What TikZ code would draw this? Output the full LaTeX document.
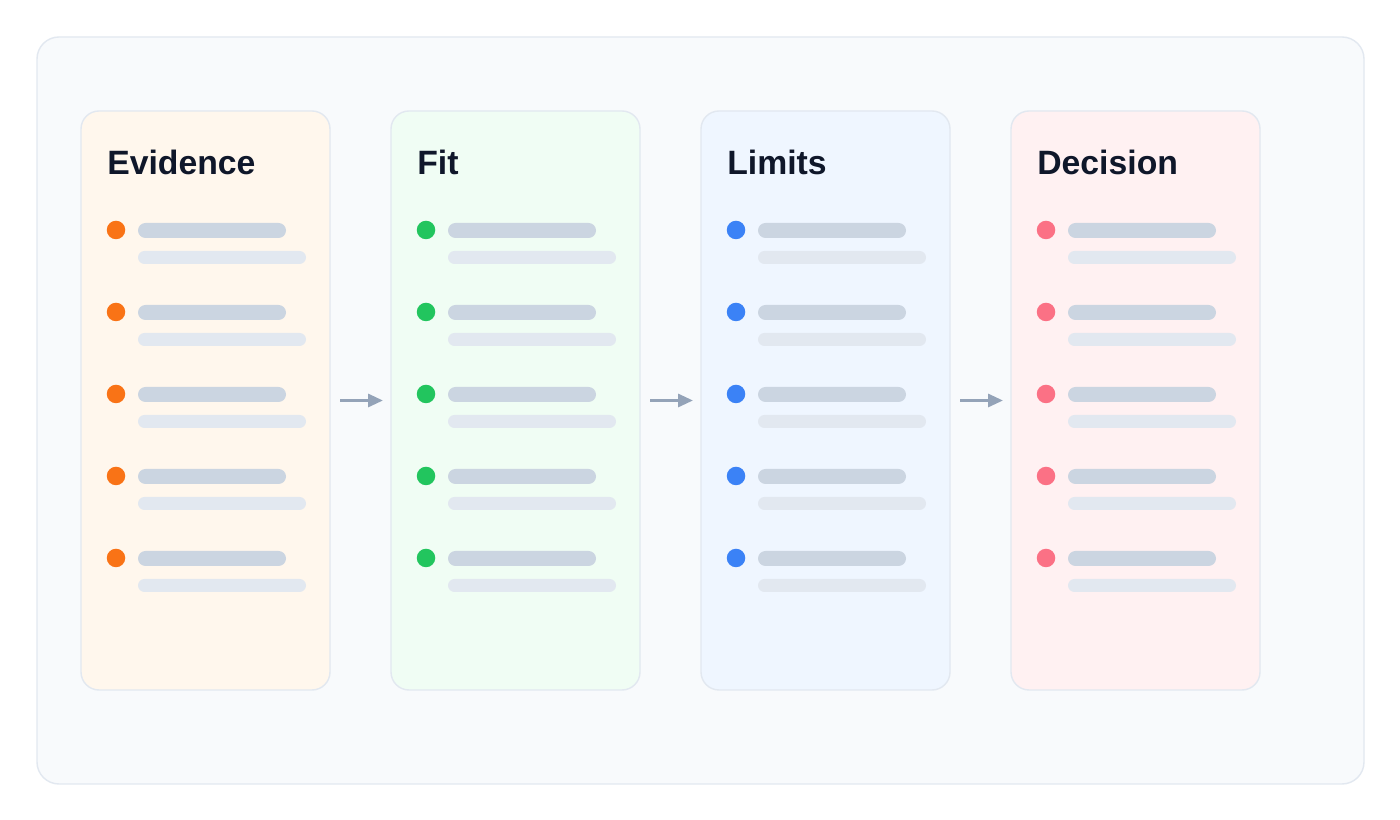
\documentclass[tikz,border=0pt]{standalone}
\usepackage{fontspec}
\setmainfont{Liberation Sans}
\usepackage{tikz}
\usetikzlibrary{arrows.meta,positioning,calc}

\definecolor{panelbg}{HTML}{F8FAFC}
\definecolor{edge}{HTML}{E2E8F0}
\definecolor{ink}{HTML}{0F172A}
\definecolor{barA}{HTML}{CBD5E1}
\definecolor{barB}{HTML}{E2E8F0}
\definecolor{arrowgray}{HTML}{94A3B8}
\definecolor{evidencebg}{HTML}{FFF7ED}
\definecolor{fitbg}{HTML}{F0FDF4}
\definecolor{limitsbg}{HTML}{EFF6FF}
\definecolor{decisionbg}{HTML}{FFF1F2}
\definecolor{evidencedot}{HTML}{F97316}
\definecolor{fitdot}{HTML}{22C55E}
\definecolor{limitsdot}{HTML}{3B82F6}
\definecolor{decisiondot}{HTML}{FB7185}

\tikzset{
  card/.style={draw=edge, line width=0.8pt, rounded corners=0.36cm, minimum width=4.98cm, minimum height=11.58cm, inner sep=0pt, outer sep=0pt},
  cardtitle/.style={anchor=base west, inner sep=0pt, text=ink, font=\bfseries\fontsize{19.2}{23}\selectfont},
  flow/.style={draw=arrowgray, line width=1.7pt, -{Triangle[length=0.3cm,width=0.26cm]}, shorten <=0.2cm, shorten >=0.16cm}
}

\begin{document}
\begin{tikzpicture}
\useasboundingbox (0,0) rectangle (28,16.4);
\fill[white] (0,0) rectangle (28,16.4);
\draw[draw=edge, fill=panelbg, line width=0.8pt, rounded corners=0.44cm] (0.74,0.72) rectangle (27.28,15.66);

% the four stages
\node[card, fill=evidencebg] (evidence) at (4.11,8.39) {};
\node[card, fill=fitbg, right=1.22cm of evidence] (fit) {};
\node[card, fill=limitsbg, right=1.22cm of fit] (limits) {};
\node[card, fill=decisionbg, right=1.22cm of limits] (decision) {};

\node[cardtitle] (evidencetitle) at ($(evidence.north west)+(0.52,-1.28)$) {Evidence};
\node[cardtitle] (fittitle) at ($(fit.north west)+(0.52,-1.28)$) {Fit};
\node[cardtitle] (limitstitle) at ($(limits.north west)+(0.52,-1.28)$) {Limits};
\node[cardtitle] (decisiontitle) at ($(decision.north west)+(0.52,-1.28)$) {Decision};

% placeholder rows
\foreach \c in {evidence,fit,limits,decision}{
  \foreach \k in {0,...,4}{
    \coordinate (row) at ($(\c.north west)+(0,-2.38-1.64*\k)$);
    \fill[\c dot] ($(row)+(0.7,0)$) circle (0.185);
    \fill[barA, rounded corners=0.15cm] ($(row)+(1.14,0.14)$) rectangle ($(row)+(4.1,-0.16)$);
    \fill[barB, rounded corners=0.13cm] ($(row)+(1.14,-0.42)$) rectangle ($(row)+(4.5,-0.68)$);
  }
}

\draw[flow] (evidence) -- (fit);
\draw[flow] (fit) -- (limits);
\draw[flow] (limits) -- (decision);
\end{tikzpicture}
\end{document}
